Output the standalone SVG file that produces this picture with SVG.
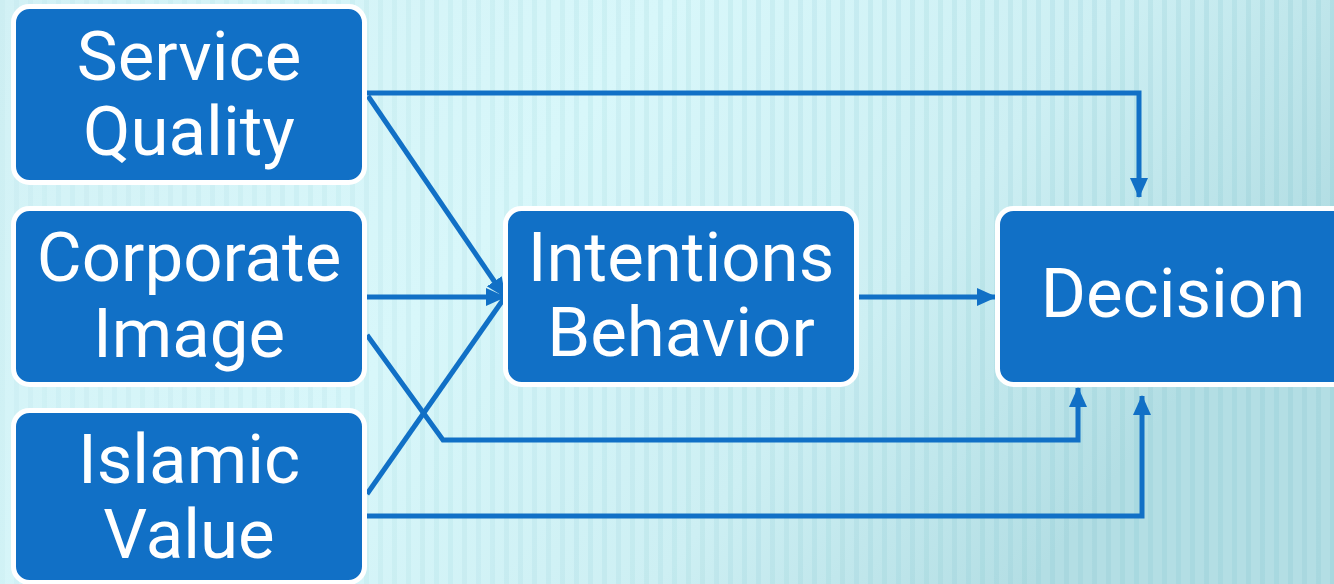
<svg xmlns="http://www.w3.org/2000/svg" width="1334" height="584" viewBox="0 0 1334 584">
  <style>
    .box { fill: #1170C6; stroke: #FFFFFF; stroke-width: 5; }
    .lbl { fill: #FFFFFF; font-family: Roboto, "Liberation Sans", Arial, sans-serif; font-weight: 400; font-size: 69px; text-anchor: middle; }
    .conn { fill: none; stroke: #1170C6; stroke-width: 5; }
  </style>
  <defs>
    <linearGradient id="bgGrad" x1="0" y1="0" x2="1" y2="0.35">
      <stop offset="0" stop-color="#D2F1F5"/>
      <stop offset="0.45" stop-color="#D8F7FA"/>
      <stop offset="0.75" stop-color="#CDEFF3"/>
      <stop offset="1" stop-color="#B3DEE4"/>
    </linearGradient>
    <pattern id="stripes" x="0" y="0" width="14" height="584" patternUnits="userSpaceOnUse">
      <rect x="0" y="0" width="5" height="584" fill="#7FC4CE" opacity="0.2"/>
    </pattern>
    <linearGradient id="fade" x1="0" y1="0" x2="1" y2="0">
      <stop offset="0" stop-color="#fff" stop-opacity="0.3"/>
      <stop offset="0.5" stop-color="#fff" stop-opacity="0.65"/>
      <stop offset="1" stop-color="#fff" stop-opacity="1"/>
    </linearGradient>
    <mask id="stripeMask">
      <rect x="0" y="0" width="1334" height="584" fill="url(#fade)"/>
    </mask>
    <marker id="arrow" viewBox="0 0 20 20" refX="19" refY="10" markerWidth="20" markerHeight="20" markerUnits="userSpaceOnUse" orient="auto">
      <path d="M0,1 L20,10 L0,19 z" fill="#1170C6"/>
    </marker>
  </defs>

  <rect x="0" y="0" width="1334" height="584" fill="url(#bgGrad)"/>
  <rect x="0" y="0" width="1334" height="584" fill="url(#stripes)" mask="url(#stripeMask)"/>

  <g id="connectors">
    <path class="conn" d="M362,93 H1139 V197" marker-end="url(#arrow)"/>
    <path class="conn" d="M368,96 L505,297" marker-end="url(#arrow)"/>
    <path class="conn" d="M367,297 H505" marker-end="url(#arrow)"/>
    <path class="conn" d="M367,494 L505,297"/>
    <path class="conn" d="M367,335 L443,440 H1078 V388" marker-end="url(#arrow)"/>
    <path class="conn" d="M362,516 H1142 V396" marker-end="url(#arrow)"/>
    <path class="conn" d="M859,297 H996" marker-end="url(#arrow)"/>
  </g>

  <g id="node-service-quality">
    <rect class="box" x="13.5" y="6.5" width="351" height="176" rx="16"/>
    <text class="lbl" x="189" y="80">Service</text>
    <text class="lbl" x="189" y="155">Quality</text>
  </g>
  <g id="node-corporate-image">
    <rect class="box" x="13.5" y="208.5" width="351" height="176" rx="16"/>
    <text class="lbl" x="189" y="281">Corporate</text>
    <text class="lbl" x="189" y="357">Image</text>
  </g>
  <g id="node-islamic-value">
    <rect class="box" x="13.5" y="410.5" width="351" height="172" rx="16"/>
    <text class="lbl" x="189" y="483">Islamic</text>
    <text class="lbl" x="189" y="558">Value</text>
  </g>
  <g id="node-intentions-behavior">
    <rect class="box" x="505.5" y="208.5" width="351" height="176" rx="16"/>
    <text class="lbl" x="681" y="281">Intentions</text>
    <text class="lbl" x="681" y="356">Behavior</text>
  </g>
  <g id="node-decision">
    <rect class="box" x="997.5" y="208.5" width="360" height="176" rx="16"/>
    <text class="lbl" x="1173" y="317">Decision</text>
  </g>
</svg>
